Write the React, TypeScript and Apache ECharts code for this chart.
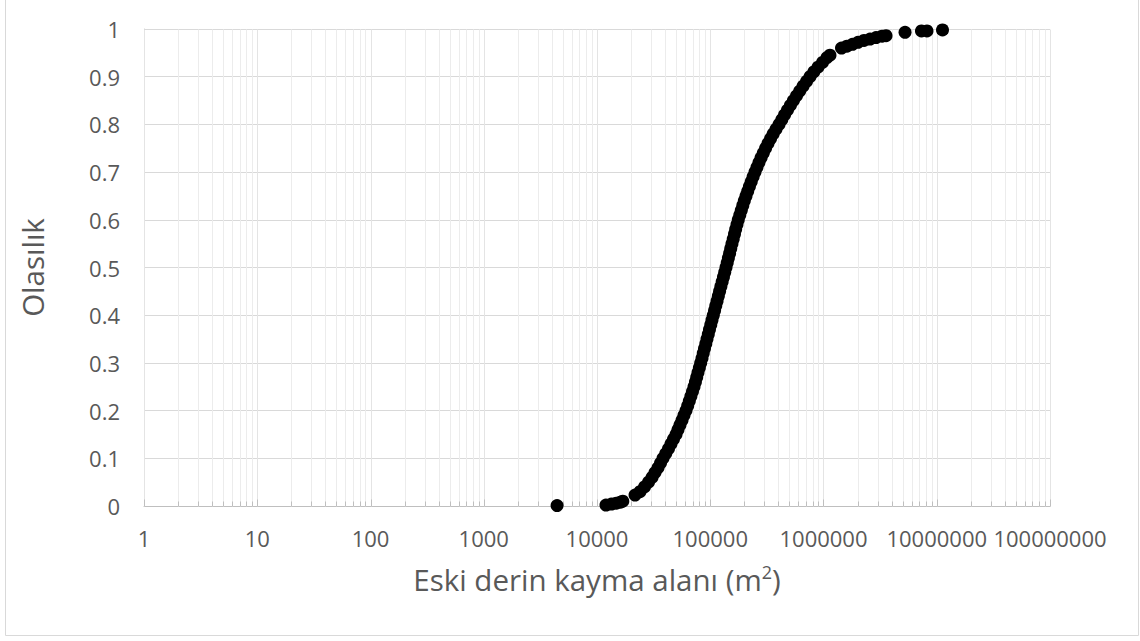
import React, { useEffect, useRef } from "react";
import * as echarts from "echarts";

// Exceedance data: landslide area (m²) vs. cumulative probability
const areaValues: number[] = [
  4440, 12000, 13400, 14800, 16100, 16900,
  21670, 23970, 26260, 28490, 30600, 32520, 34580, 36390, 38280, 40480,
  42780, 44990, 47330, 49860, 51890, 54050, 56330, 58630, 61100, 63240,
  65330, 67470, 69670, 71880, 73970, 75960, 77950, 80160, 82330, 84580,
  86700, 88960, 91400, 93600, 96100, 98440, 101100, 103600, 106400, 109200,
  111900, 114900, 117900, 120900, 124100, 127400, 130800, 134200, 137700, 141200,
  144600, 148300, 151800, 155500, 159500, 163700, 167700, 172200, 176900, 182400,
  188000, 193800, 199900, 206900, 214200, 221700, 230000, 239000, 248400, 258600,
  269300, 281000, 294000, 308000, 323500, 340500, 359200, 380700, 404800, 428400,
  453300, 480800, 510400, 542300, 577700, 616700, 659600, 707800, 760000, 820600,
  893800, 979800, 1074000, 1141000, 1442000, 1611000, 1803000, 2017000, 2279000, 2576000,
  2911000, 3289000, 3566000, 5248000, 7329000, 8200000, 11240000,
];

const probValues: number[] = [
  0.001, 0.002, 0.004, 0.006, 0.008, 0.010,
  0.023, 0.03, 0.04, 0.05, 0.06, 0.07, 0.08, 0.09, 0.10, 0.11,
  0.12, 0.13, 0.14, 0.15, 0.16, 0.17, 0.18, 0.19, 0.20, 0.21,
  0.22, 0.23, 0.24, 0.25, 0.26, 0.27, 0.28, 0.29, 0.30, 0.31,
  0.32, 0.33, 0.34, 0.35, 0.36, 0.37, 0.38, 0.39, 0.40, 0.41,
  0.42, 0.43, 0.44, 0.45, 0.46, 0.47, 0.48, 0.49, 0.50, 0.51,
  0.52, 0.53, 0.54, 0.55, 0.56, 0.57, 0.58, 0.59, 0.60, 0.61,
  0.62, 0.63, 0.64, 0.65, 0.66, 0.67, 0.68, 0.69, 0.70, 0.71,
  0.72, 0.73, 0.74, 0.75, 0.76, 0.77, 0.78, 0.79, 0.80, 0.81,
  0.82, 0.83, 0.84, 0.85, 0.86, 0.87, 0.88, 0.89, 0.90, 0.91,
  0.92, 0.93, 0.94, 0.945, 0.960, 0.964, 0.968, 0.972, 0.976, 0.979,
  0.982, 0.985, 0.986, 0.993, 0.996, 0.996, 0.998,
];

// Axis decades and the minor steps inside each decade
const xDecades: number[] = [1, 10, 100, 1000, 10000, 100000, 1000000, 10000000, 100000000];
const minorSteps: number[] = [2, 3, 4, 5, 6, 7, 8, 9];

const FONT = "'Open Sans', 'Noto Sans', sans-serif";
const TEXT_COLOR = "#595959";

export default function App() {
  const ref = useRef<HTMLDivElement>(null);

  useEffect(() => {
    if (!ref.current) return;
    const chart = echarts.init(ref.current, undefined, { renderer: "svg" });

    const gridMarks: [number, number, number][] = [];
    xDecades.forEach((d, i) => {
      gridMarks.push([d, 0, 1]);
      if (i < xDecades.length - 1) {
        minorSteps.forEach((m) => gridMarks.push([d * m, 0, 0]));
      }
    });

    const points = areaValues.map((a, i) => [a, probValues[i]]);

    chart.setOption({
      animation: false,
      backgroundColor: "#ffffff",
      textStyle: { fontFamily: FONT },
      grid: { left: 144, right: 90, top: 29, bottom: 135, containLabel: false },
      xAxis: {
        type: "log",
        logBase: 10,
        min: 1,
        max: 100000000,
        name: "Eski derin kayma alanı (m{sup|2})",
        nameLocation: "middle",
        nameGap: 57,
        nameTextStyle: {
          fontFamily: FONT,
          fontSize: 29.5,
          color: TEXT_COLOR,
          rich: {
            sup: { fontFamily: FONT, fontSize: 18, color: TEXT_COLOR, verticalAlign: "top", padding: [0, 0, 15, 0] },
          },
        },
        axisLine: { show: true, lineStyle: { color: "#bfbfbf", width: 1 } },
        axisTick: { show: false },
        splitLine: { show: false },
        minorTick: { show: false },
        minorSplitLine: { show: false },
        axisLabel: {
          fontFamily: FONT,
          fontSize: 22,
          color: TEXT_COLOR,
          margin: 21,
          formatter: (v: number) => String(Math.round(v)),
        },
      },
      yAxis: {
        type: "value",
        min: 0,
        max: 1,
        interval: 0.1,
        name: "Olasılık",
        nameLocation: "middle",
        nameGap: 97,
        nameRotate: 90,
        nameTextStyle: { fontFamily: FONT, fontSize: 29.5, color: TEXT_COLOR },
        axisLine: { show: true, lineStyle: { color: "#d0d0d0", width: 1 } },
        axisTick: { show: false },
        splitLine: { show: true, lineStyle: { color: "#d9d9d9", width: 1 } },
        axisLabel: {
          fontFamily: FONT,
          fontSize: 22,
          color: TEXT_COLOR,
          margin: 24,
          formatter: (v: number) => String(Math.round(v * 10) / 10),
        },
      },
      graphic: [
        {
          type: "rect",
          shape: { x: 5.5, y: -2, width: 1133, height: 637.5 },
          style: { fill: "none", stroke: "#d9d9d9", lineWidth: 1 },
          silent: true,
          z: -10,
        },
      ],
      series: [
        {
          type: "custom",
          silent: true,
          z: 1,
          data: gridMarks,
          encode: { x: 0, y: 1 },
          clip: false,
          renderItem: (_params: any, api: any) => {
            const v = api.value(0);
            const isMajor = api.value(2) === 1;
            const top = api.coord([v, 1]);
            const bot = api.coord([v, 0]);
            const x = Math.round(top[0]) + 0.5;
            const yb = Math.round(bot[1]) + 0.5;
            const yt = Math.round(top[1]) + 0.5;
            return {
              type: "group",
              children: [
                {
                  type: "line",
                  shape: { x1: x, y1: yt, x2: x, y2: yb },
                  style: { stroke: isMajor ? "#e4e4e4" : "#ececec", lineWidth: 1 },
                },
                {
                  type: "line",
                  shape: { x1: x, y1: yb - (isMajor ? 7 : 5), x2: x, y2: yb },
                  style: { stroke: "#bfbfbf", lineWidth: 1 },
                },
              ],
            };
          },
        },
        {
          type: "scatter",
          z: 5,
          data: points,
          symbol: "circle",
          symbolSize: 13,
          itemStyle: { color: "#000000", opacity: 1 },
        },
      ],
    });

    return () => chart.dispose();
  }, []);

  return (
    <div
      ref={ref}
      style={{ position: "fixed", left: 0, top: 0, width: 1140, height: 641, background: "#ffffff" }}
    />
  );
}
